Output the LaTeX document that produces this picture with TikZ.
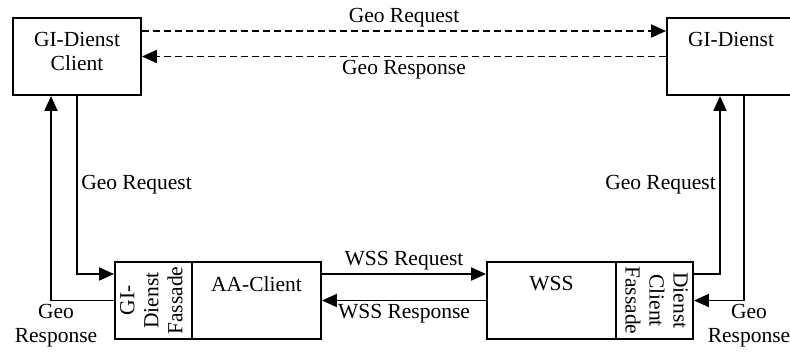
\documentclass[tikz,border=0pt]{standalone}
\usepackage{fontspec}
\setmainfont{Liberation Serif}
\usetikzlibrary{arrows.meta}

\newcommand{\sidetext}[2]{\rotatebox{#1}{\begin{tabular}{@{}c@{}}#2\end{tabular}}}

\begin{document}
\begin{tikzpicture}[
x=1pt,y=-1pt,
font=\fontsize{21.5}{24}\selectfont,
>={Triangle[length=15pt,width=13pt]},
box/.style={rectangle,draw=black,line width=1.9pt,inner sep=0pt,minimum height=77pt},
title/.style={anchor=north,yshift=-8pt,align=center,inner sep=7pt},
arrow/.style={->,line width=1.9pt},
dasharrow/.style={->,line width=1.9pt,dash pattern=on 7pt off 4pt},
msg/.style={inner sep=3pt,align=center}
]
\useasboundingbox (0,0) rectangle (790,354);
\clip (0,0) rectangle (790,354);

% upper boxes
\node[box,minimum width=128pt,label={[title]north:GI-Dienst\\Client}] (client) at (77,56.5) {};
\node[box,minimum width=128pt,label={[title]north:GI-Dienst}] (gid) at (731,56.5) {};

% lower boxes with their facades
\node[box,minimum width=77pt] (fas1) at (153.5,300.5) {\sidetext{90}{GI-\\Dienst\\Fassade}};
\node[box,minimum width=129pt,label={[title]north:AA-Client}] (aac) at (256.5,300.5) {};
\node[box,minimum width=129pt,label={[title]north:WSS}] (wss) at (551.5,300.5) {};
\node[box,minimum width=77pt] (fas2) at (654.5,300.5) {\sidetext{-90}{Dienst\\Client\\Fassade}};

% direct requests
\draw[dasharrow] ([yshift=25.5pt]client.east) -- node[msg,above] {Geo Request} ([yshift=25.5pt]gid.west);
\draw[dasharrow] (gid.west) -- node[msg,below] {Geo Response} (client.east);

% client side
\draw[arrow] (client.south) |- node[pos=0.25,right] {Geo Request} ([yshift=26.5pt]fas1.west);
\draw[arrow] (fas1.west) -| node[msg,pos=0.5,below,xshift=5pt] {Geo\\Response} ([xshift=-26pt]client.south);

% between the facades
\draw[arrow] ([yshift=26.5pt]aac.east) -- node[msg,above] {WSS Request} ([yshift=26.5pt]wss.west);
\draw[arrow] (wss.west) -- node[msg,below] {WSS Response} (aac.east);

% service side
\draw[arrow] ([yshift=26.5pt]fas2.east) -| node[pos=0.75,left] {Geo Request} ([xshift=-11pt]gid.south);
\draw[arrow] ([xshift=13pt]gid.south) |- node[msg,pos=0.5,below,xshift=5pt] {Geo\\Response} (fas2.east);
\end{tikzpicture}
\end{document}
